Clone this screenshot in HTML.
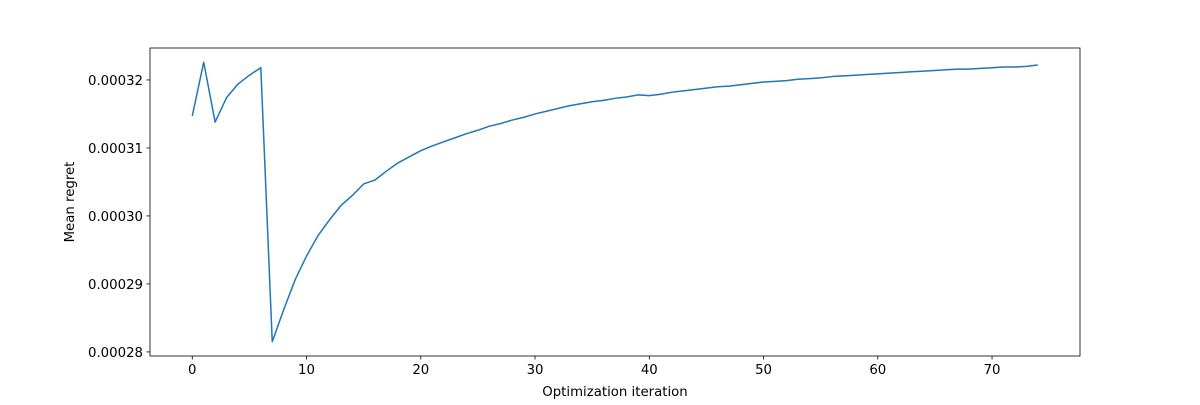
<!DOCTYPE html>
<html><head><meta charset="utf-8"><style>
body{margin:0;background:#fff}
svg text{font-family:"DejaVu Sans","Liberation Sans",sans-serif;font-size:13.3px;fill:#000}
</style></head><body>
<svg id="chart" width="1200" height="400">
<rect width="1200" height="400" fill="#fff"/>
<g id="plot"></g>
</svg>
<script>
const xTicks=[0,10,20,30,40,50,60,70];
const yTicks=[0.00028,0.00029,0.00030,0.00031,0.00032];
const yTickLabels=["0.00028","0.00029","0.00030","0.00031","0.00032"];
const regret=[0.0003147,0.0003226,0.0003138,0.0003174,0.0003194,0.0003207,0.0003218,0.0002815,0.0002862,0.0002906,
0.0002941,0.0002971,0.0002994,0.0003015,0.000303,0.0003047,0.0003053,0.0003066,0.0003078,0.0003087,
0.0003096,0.0003103,0.0003109,0.0003115,0.0003121,0.0003126,0.0003132,0.0003136,0.0003141,0.0003145,
0.000315,0.0003154,0.0003158,0.0003162,0.0003165,0.0003168,0.000317,0.0003173,0.0003175,0.0003178,
0.0003177,0.0003179,0.0003182,0.0003184,0.0003186,0.0003188,0.000319,0.0003191,0.0003193,0.0003195,
0.0003197,0.0003198,0.0003199,0.0003201,0.0003202,0.0003203,0.0003205,0.0003206,0.0003207,0.0003208,
0.0003209,0.000321,0.0003211,0.0003212,0.0003213,0.0003214,0.0003215,0.0003216,0.0003216,0.0003217,
0.0003218,0.0003219,0.0003219,0.000322,0.0003222];
const L=150,R=1080,T=48,B=356;
const xmin=-3.7,xmax=77.7,ymin=0.0002794,ymax=0.0003247;
const X=v=>L+(v-xmin)/(xmax-xmin)*(R-L);
const Y=v=>B-(v-ymin)/(ymax-ymin)*(B-T);
const g=document.getElementById('plot');
const NS='http://www.w3.org/2000/svg';
function mk(t,a){const e=document.createElementNS(NS,t);for(const k in a)e.setAttribute(k,a[k]);g.appendChild(e);return e;}
let d=regret.map((v,i)=>(i?'L':'M')+X(i).toFixed(2)+','+Y(v).toFixed(2)).join('');
const line=mk('path',{d:d,fill:'none',stroke:'#1f77b4','stroke-width':1.5,'stroke-linejoin':'round'});


const frame=mk('rect',{x:L,y:T,width:R-L,height:B-T,fill:'none',stroke:'#000','stroke-width':0.8});


xTicks.forEach(v=>{
 mk('line',{x1:X(v),x2:X(v),y1:B,y2:B+3.5,stroke:'#000','stroke-width':0.8});
 const t=mk('text',{x:X(v),y:B+18,'text-anchor':'middle'});t.textContent=v;
 
 
});
yTicks.forEach((v,i)=>{
 mk('line',{x1:L-3.5,x2:L,y1:Y(v),y2:Y(v),stroke:'#000','stroke-width':0.8});
 const t=mk('text',{x:L-7,y:Y(v)+5,'text-anchor':'end'});t.textContent=yTickLabels[i];
 
 
});
const xt=mk('text',{x:(L+R)/2,y:396,'text-anchor':'middle'});xt.textContent='Optimization iteration';


const yt=mk('text',{x:74,y:(T+B)/2,'text-anchor':'middle',transform:`rotate(-90 74 ${(T+B)/2})`});yt.textContent='Mean regret';


</script>
</body></html>
